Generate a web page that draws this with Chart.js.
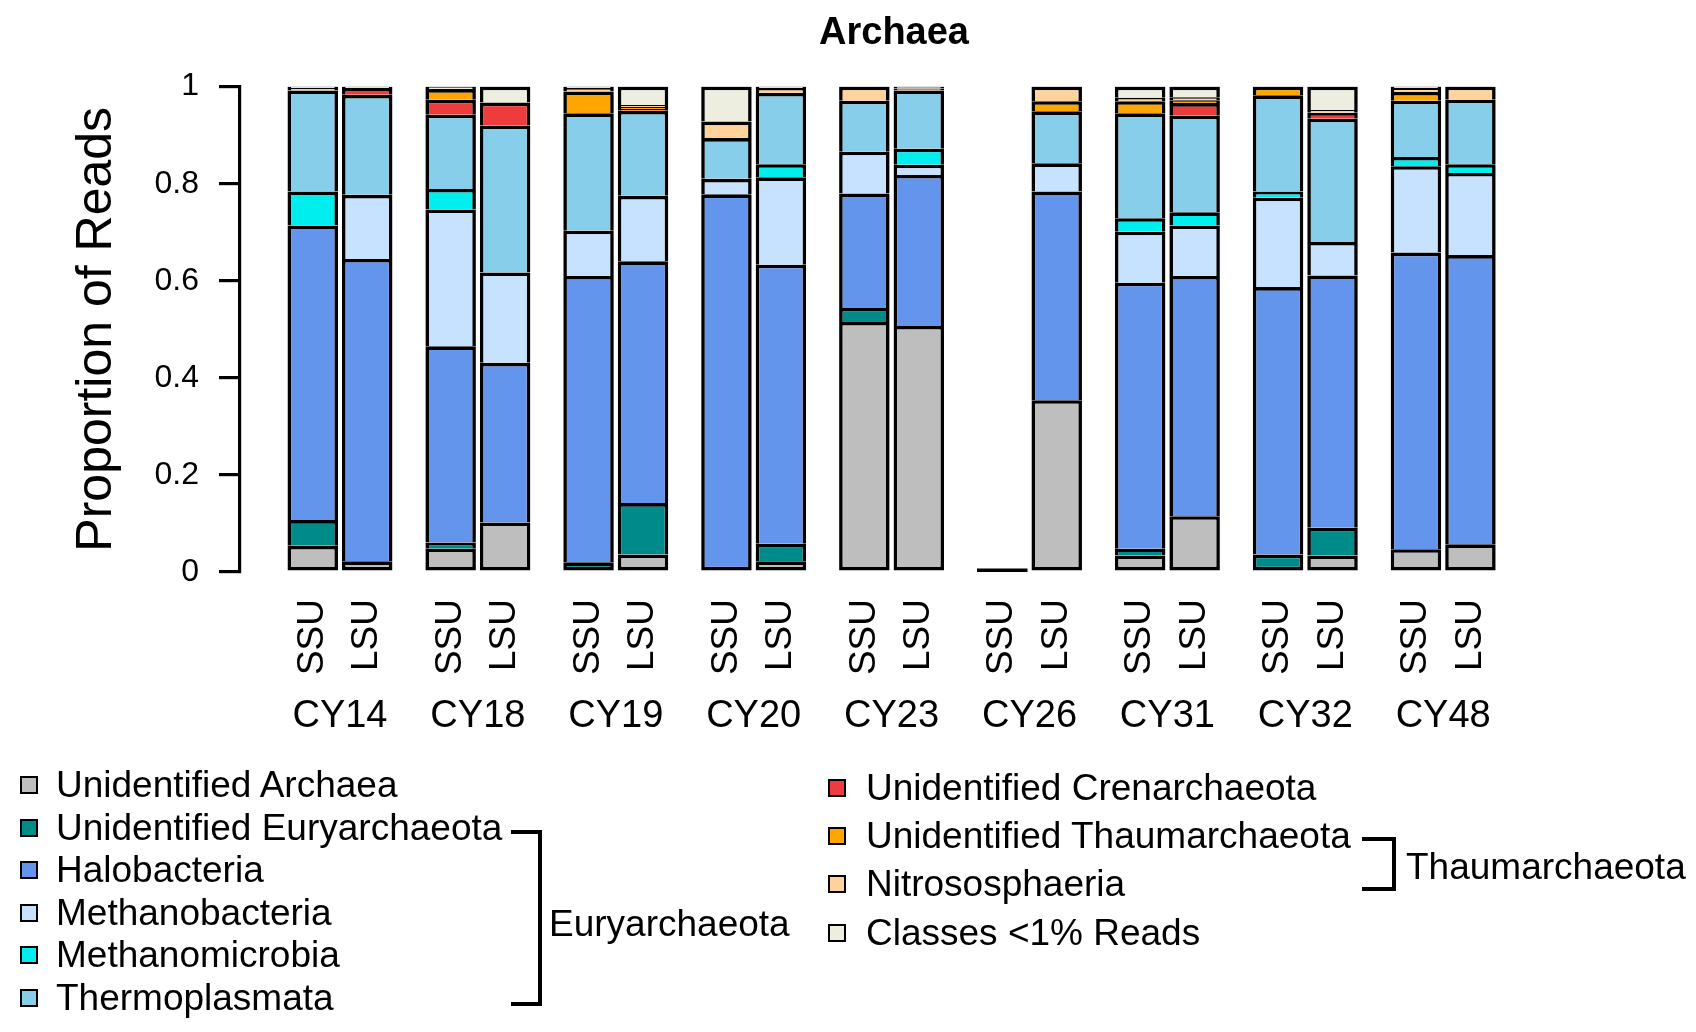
<!DOCTYPE html>
<html>
<head>
<meta charset="utf-8">
<title>Archaea</title>
<script src="https://cdn.jsdelivr.net/npm/chart.js@4.4.1/dist/chart.umd.min.js"></script>
<style>
  body { margin: 0; background: #fff; }
  #wrap { position: relative; width: 1696px; height: 1032px; font-family: "Liberation Sans", Arial, sans-serif; }
  #chart { position: absolute; left: 0; top: 0; }
  .item { position: absolute; height: 42px; line-height: 42px; font-size: 37px; color: #000; white-space: nowrap; }
  .box { position: absolute; width: 14px; height: 14px; border: 2.5px solid #000; }
  .brace { position: absolute; border: 4.5px solid #000; border-left: none; }
  .group { position: absolute; font-size: 37px; line-height: 42px; height: 42px; color: #000; }
</style>
</head>
<body>
<div id="wrap">
  <canvas id="chart" width="1696" height="1032"></canvas>
  <div id="legend"></div>
</div>
<script>
// sites and the two gene regions
const groups = ['CY14', 'CY18', 'CY19', 'CY20', 'CY23', 'CY26', 'CY31', 'CY32', 'CY48'];
const stackLabels = ['SSU', 'LSU'];

const taxa = ['Unidentified Archaea', 'Unidentified Euryarchaeota', 'Halobacteria', 'Methanobacteria',
  'Methanomicrobia', 'Thermoplasmata', 'Unidentified Crenarchaeota', 'Unidentified Thaumarchaeota',
  'Nitrososphaeria', 'Classes <1% Reads'];
const taxaColors = ['#BEBEBE', '#008B8B', '#6495ED', '#C6E2FF', '#00EEEE', '#87CEEB',
  '#EE3B3B', '#FFA500', '#FFD39B', '#EEEEE0'];

// SSU proportions (CY14 ... CY48)
const unidArchaeaSSU       = [0.054, 0.048, 0,     0,     0.515, 0, 0.034, 0,     0.047];
const unidEuryarchaeotaSSU = [0.053, 0.013, 0.020, 0,     0.029, 0, 0.014, 0.036, 0];
const halobacteriaSSU      = [0.607, 0.404, 0.590, 0.778, 0.236, 0, 0.548, 0.551, 0.611];
const methanobacteriaSSU   = [0,     0.282, 0.093, 0.032, 0.086, 0, 0.105, 0.184, 0.178];
const methanomicrobiaSSU   = [0.070, 0.042, 0,     0,     0,     0, 0.028, 0.013, 0.019];
const thermoplasmataSSU    = [0.208, 0.153, 0.242, 0.084, 0.105, 0, 0.216, 0.198, 0.116];
const unidCrenarchaeotaSSU = [0,     0.031, 0,     0,     0,     0, 0,     0,     0];
const unidThaumarchaeotaSSU= [0,     0.022, 0.045, 0,     0,     0, 0.025, 0.018, 0.018];
const nitrososphaeriaSSU   = [0.005, 0,     0.007, 0.034, 0.029, 0, 0.007, 0,     0.008];
const minorClassesSSU      = [0.003, 0.005, 0.003, 0.072, 0,     0, 0.023, 0,     0.003];

// LSU proportions (CY14 ... CY48)
const unidArchaeaLSU       = [0.022, 0.102, 0.036, 0.022, 0.507, 0.354, 0.115, 0.034, 0.057];
const unidEuryarchaeotaLSU = [0,     0,     0.106, 0.036, 0,     0,     0,     0.057, 0];
const halobacteriaLSU      = [0.623, 0.329, 0.498, 0.575, 0.311, 0.430, 0.495, 0.520, 0.596];
const methanobacteriaLSU   = [0.132, 0.186, 0.135, 0.180, 0.021, 0.058, 0.104, 0.069, 0.169];
const methanomicrobiaLSU   = [0,     0,     0,     0.027, 0.033, 0,     0.027, 0,     0.018];
const thermoplasmataLSU    = [0.206, 0.303, 0.175, 0.147, 0.120, 0.107, 0.199, 0.254, 0.133];
const unidCrenarchaeotaLSU = [0.014, 0.047, 0.004, 0,     0,     0,     0.026, 0.012, 0];
const unidThaumarchaeotaLSU= [0,     0,     0.004, 0,     0.004, 0.021, 0.006, 0,     0];
const nitrososphaeriaLSU   = [0,     0,     0.004, 0.010, 0.004, 0.030, 0.006, 0.006, 0.027];
const minorClassesLSU      = [0.003, 0.033, 0.038, 0.003, 0,     0,     0.022, 0.048, 0];

const yTicks = [0, 0.2, 0.4, 0.6, 0.8, 1];
const yTickLabels = ['0', '0.2', '0.4', '0.6', '0.8', '1'];

const ssuSeries = [unidArchaeaSSU, unidEuryarchaeotaSSU, halobacteriaSSU, methanobacteriaSSU, methanomicrobiaSSU,
  thermoplasmataSSU, unidCrenarchaeotaSSU, unidThaumarchaeotaSSU, nitrososphaeriaSSU, minorClassesSSU];
const lsuSeries = [unidArchaeaLSU, unidEuryarchaeotaLSU, halobacteriaLSU, methanobacteriaLSU, methanomicrobiaLSU,
  thermoplasmataLSU, unidCrenarchaeotaLSU, unidThaumarchaeotaLSU, nitrososphaeriaLSU, minorClassesLSU];
const seriesByStack = { SSU: ssuSeries, LSU: lsuSeries };

const FONT = '"Liberation Sans", Arial, sans-serif';
const EDGE = 3.6;
Chart.defaults.font.family = FONT;
Chart.defaults.color = '#000';

// only the lowest non-empty slice of a bar gets a bottom edge
function segBorder(c) {
  const ds = c.dataset;
  const list = seriesByStack[ds.stack];
  let lowest = true;
  for (let k = 0; k < ds.taxon; k++) {
    if (list[k][c.dataIndex] > 0) { lowest = false; break; }
  }
  return { top: EDGE, left: EDGE, right: EDGE, bottom: lowest ? EDGE : 0 };
}

function makeDatasets(stack, list) {
  return list.map((vals, t) => ({
    label: taxa[t],
    stack: stack,
    taxon: t,
    data: vals.map((v, i) => ({ x: i, y: v })),
    backgroundColor: taxaColors[t],
    borderColor: '#000',
    borderSkipped: false,
    borderWidth: segBorder,
    categoryPercentage: 0.79,
    barPercentage: 0.927
  }));
}

const datasets = makeDatasets('SSU', ssuSeries).concat(makeDatasets('LSU', lsuSeries));

// rotated SSU/LSU labels under each bar, plus a flat line for empty bars
const barLabels = {
  id: 'barLabels',
  afterDatasetsDraw(chart) {
    const ctx = chart.ctx;
    const bottom = chart.chartArea.bottom;
    ctx.save();
    ctx.font = '37px ' + FONT;
    ctx.fillStyle = '#000';
    ctx.strokeStyle = '#000';
    ctx.textAlign = 'right';
    ctx.textBaseline = 'middle';
    stackLabels.forEach((lab, k) => {
      const meta = chart.getDatasetMeta(k * taxa.length);
      const list = seriesByStack[lab];
      meta.data.forEach((bar, i) => {
        const p = bar.getProps(['x', 'width', 'base'], true);
        ctx.save();
        ctx.translate(p.x, bottom + 27);
        ctx.rotate(-Math.PI / 2);
        ctx.fillText(lab, 0, 0);
        ctx.restore();
        const total = list.reduce((s, arr) => s + arr[i], 0);
        if (total === 0) {
          ctx.lineWidth = EDGE;
          ctx.beginPath();
          ctx.moveTo(p.x - p.width / 2, p.base - EDGE / 2);
          ctx.lineTo(p.x + p.width / 2, p.base - EDGE / 2);
          ctx.stroke();
        }
      });
    });
    ctx.restore();
  }
};

new Chart(document.getElementById('chart'), {
  type: 'bar',
  data: { datasets: datasets },
  plugins: [barLabels],
  options: {
    responsive: false,
    animation: false,
    events: [],
    layout: { padding: { left: 0, right: 148, top: 0, bottom: 0 } },
    plugins: {
      legend: { display: false },
      tooltip: { enabled: false },
      title: {
        display: true,
        text: 'Archaea',
        fullSize: false,
        font: { size: 38, weight: 'bold', lineHeight: 1.2 },
        padding: { top: 11, bottom: 30 },
        color: '#000'
      }
    },
    scales: {
      x: {
        type: 'linear',
        stacked: true,
        offset: false,
        min: -0.725,
        max: 8.76,
        grid: { display: false, drawTicks: false },
        border: { display: false },
        afterBuildTicks: (s) => { s.ticks = groups.map((g, i) => ({ value: i })); },
        afterFit: (s) => { s.height = 460; },
        ticks: {
          autoSkip: false,
          maxRotation: 0,
          padding: 122,
          font: { size: 38, lineHeight: 1.2 },
          color: '#000',
          callback: (v) => groups[v]
        }
      },
      y: {
        stacked: true,
        min: 0,
        max: 1,
        afterBuildTicks: (s) => { s.ticks = yTicks.map(v => ({ value: v })); },
        afterFit: (s) => { s.width = 240; },
        grid: { drawOnChartArea: false, drawTicks: true, tickLength: 21, lineWidth: 3.2, color: '#000' },
        border: { display: true, width: 3.2, color: '#000' },
        ticks: {
          padding: 20,
          font: { size: 32 },
          color: '#000',
          callback: (v, i) => yTickLabels[i]
        },
        title: {
          display: true,
          text: 'Proportion of Reads',
          font: { size: 50, lineHeight: 1 },
          padding: { top: 72, bottom: 0 },
          color: '#000'
        }
      }
    }
  }
});

// legend (two columns) with the phylum brackets
const legend = document.getElementById('legend');
function addItem(t, boxX, textX, cy) {
  const box = document.createElement('div');
  box.className = 'box';
  box.style.left = boxX + 'px';
  box.style.top = (cy - 9) + 'px';
  box.style.background = taxaColors[t];
  legend.appendChild(box);
  const txt = document.createElement('div');
  txt.className = 'item';
  txt.style.left = textX + 'px';
  txt.style.top = (cy - 21) + 'px';
  txt.textContent = taxa[t];
  legend.appendChild(txt);
}
for (let t = 0; t < 6; t++) addItem(t, 20, 56, 785 + t * 42.5);
for (let t = 6; t < 10; t++) addItem(t, 828, 866, 788 + (t - 6) * 48.2);

function addBrace(x, y, w, h, label, lx, ly) {
  const b = document.createElement('div');
  b.className = 'brace';
  b.style.left = x + 'px';
  b.style.top = y + 'px';
  b.style.width = w + 'px';
  b.style.height = h + 'px';
  legend.appendChild(b);
  const l = document.createElement('div');
  l.className = 'group';
  l.style.left = lx + 'px';
  l.style.top = (ly - 21) + 'px';
  l.textContent = label;
  legend.appendChild(l);
}
addBrace(511, 830, 27, 168, 'Euryarchaeota', 549, 924);
addBrace(1362, 837, 30, 46, 'Thaumarchaeota', 1406, 867);
</script>
</body>
</html>
